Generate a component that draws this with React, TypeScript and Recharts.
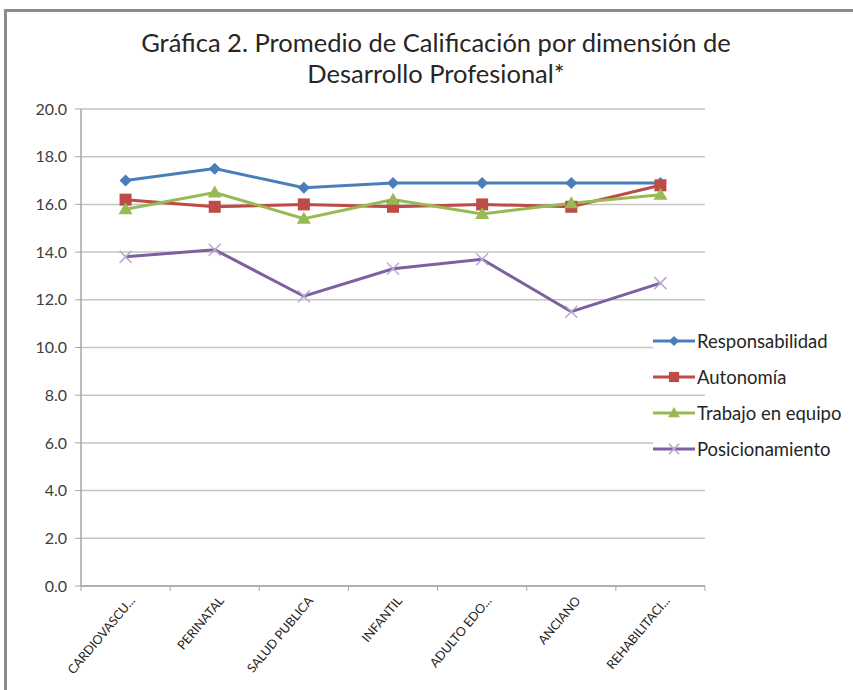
import React from "react";
import {
  LineChart,
  Line,
  CartesianGrid,
  XAxis,
  YAxis,
} from "recharts";

const categories = [
  "CARDIOVASCU...",
  "PERINATAL",
  "SALUD PUBLICA",
  "INFANTIL",
  "ADULTO EDO...",
  "ANCIANO",
  "REHABILITACI...",
];
const responsabilidad = [17.0, 17.5, 16.7, 16.9, 16.9, 16.9, 16.9];
const autonomia = [16.2, 15.9, 16.0, 15.9, 16.0, 15.9, 16.8];
const trabajo = [15.8, 16.5, 15.4, 16.2, 15.6, 16.05, 16.4];
const posicionamiento = [13.8, 14.1, 12.15, 13.3, 13.7, 11.5, 12.7];
const yTicks = [0, 2, 4, 6, 8, 10, 12, 14, 16, 18, 20];

const data = categories.map((name, i) => ({
  name,
  responsabilidad: responsabilidad[i],
  autonomia: autonomia[i],
  trabajo: trabajo[i],
  posicionamiento: posicionamiento[i],
}));

const FONT = "Lato, 'Open Sans', sans-serif";

type Shape = "diamond" | "square" | "triangle" | "x";

const series: { key: string; label: string; color: string; marker: string; shape: Shape }[] = [
  { key: "responsabilidad", label: "Responsabilidad", color: "#4A7EBB", marker: "#4A7EBB", shape: "diamond" },
  { key: "autonomia", label: "Autonomía", color: "#BE4B48", marker: "#BE4B48", shape: "square" },
  { key: "trabajo", label: "Trabajo en equipo", color: "#98B954", marker: "#98B954", shape: "triangle" },
  { key: "posicionamiento", label: "Posicionamiento", color: "#7D60A0", marker: "#B9A8D0", shape: "x" },
];

function marker(shape: Shape, cx: number, cy: number, color: string, s = 1) {
  if (shape === "diamond")
    return (
      <polygon
        points={`${cx},${cy - 6 * s} ${cx + 6 * s},${cy} ${cx},${cy + 6 * s} ${cx - 6 * s},${cy}`}
        fill={color}
      />
    );
  if (shape === "square")
    return <rect x={cx - 6 * s} y={cy - 6 * s} width={12 * s} height={12 * s} fill={color} />;
  if (shape === "triangle")
    return (
      <polygon
        points={`${cx},${cy - 7 * s} ${cx + 7 * s},${cy + 5 * s} ${cx - 7 * s},${cy + 5 * s}`}
        fill={color}
      />
    );
  return (
    <g stroke={color} strokeWidth={1.5}>
      <line x1={cx - 6 * s} y1={cy - 6 * s} x2={cx + 6 * s} y2={cy + 6 * s} />
      <line x1={cx - 6 * s} y1={cy + 6 * s} x2={cx + 6 * s} y2={cy - 6 * s} />
    </g>
  );
}

const makeDot = (shape: Shape, color: string) => (props: any) => {
  const { cx, cy, index } = props;
  if (cx == null || cy == null) return <g key={index} />;
  return <g key={index}>{marker(shape, cx, cy, color)}</g>;
};

const BAND = 624 / 7;

const XTick = (props: any) => {
  const { x, y, payload, index } = props;
  return (
    <g>
      <line x1={x - BAND / 2} y1={y - 8} x2={x - BAND / 2} y2={y - 3} stroke="#a6a6a6" />
      {index === categories.length - 1 && (
        <line x1={x + BAND / 2} y1={y - 8} x2={x + BAND / 2} y2={y - 3} stroke="#a6a6a6" />
      )}
      <text
        x={x + 10}
        y={y + 7}
        transform={`rotate(-50 ${x + 10} ${y + 7})`}
        textAnchor="end"
        fontSize={12.5}
        fontFamily={FONT}
        fill="#262626"
      >
        {payload.value}
      </text>
    </g>
  );
};

export default function App() {
  return (
    <div
      style={{
        position: "absolute",
        left: 0,
        top: 0,
        width: 853,
        height: 690,
        background: "#fff",
        overflow: "hidden",
      }}
    >
      <div
        style={{
          position: "absolute",
          left: 4,
          top: 9,
          width: 860,
          height: 700,
          borderTop: "3px solid #8a8a8a",
          borderLeft: "3px solid #8a8a8a",
        }}
      />
      <div
        style={{
          position: "absolute",
          left: 0,
          top: 27,
          width: 872,
          textAlign: "center",
          fontFamily: FONT,
          fontSize: 25.5,
          lineHeight: "31px",
          color: "#262626",
        }}
      >
        Gráfica 2. Promedio de Calificación por dimensión de
        <br />
        Desarrollo Profesional*
      </div>
      <div style={{ position: "absolute", left: 0, top: 0 }}>
        <LineChart
          width={853}
          height={690}
          data={data}
          margin={{ top: 109, right: 148, bottom: 0, left: 0 }}
        >
          <CartesianGrid vertical={false} stroke="#c4c4c4" strokeWidth={1.5} />
          <XAxis
            dataKey="name"
            height={104}
            interval={0}
            padding={{ left: BAND / 2, right: BAND / 2 }}
            tick={<XTick />}
            tickLine={false}
            axisLine={{ stroke: "#a6a6a6", strokeWidth: 1.5 }}
          />
          <YAxis
            width={81}
            domain={[0, 20]}
            ticks={yTicks}
            interval={0}
            tickFormatter={(v: number) => v.toFixed(1)}
            tick={{ fontSize: 16, fill: "#404040", fontFamily: FONT }}
            tickSize={6}
            tickMargin={8}
            tickLine={{ stroke: "#a6a6a6" }}
            axisLine={{ stroke: "#a6a6a6", strokeWidth: 1.5 }}
          />
          {series.map((s) => (
            <Line
              key={s.key}
              dataKey={s.key}
              name={s.label}
              stroke={s.color}
              strokeWidth={3}
              dot={makeDot(s.shape, s.marker)}
              activeDot={false}
              isAnimationActive={false}
            />
          ))}
        </LineChart>
      </div>
      <div
        style={{
          position: "absolute",
          left: 653,
          top: 323,
          fontFamily: FONT,
          fontSize: 18.5,
          color: "#262626",
        }}
      >
        {series.map((s) => (
          <div key={s.key} style={{ display: "flex", alignItems: "center", height: 36 }}>
            <svg width={44} height={16} style={{ background: "#fff" }}>
              <line x1={0} y1={8} x2={42} y2={8} stroke={s.color} strokeWidth={3} />
              {marker(s.shape, 21, 8, s.marker, 0.85)}
            </svg>
            <span style={{ background: "#fff", whiteSpace: "nowrap" }}>{s.label}</span>
          </div>
        ))}
      </div>
    </div>
  );
}
